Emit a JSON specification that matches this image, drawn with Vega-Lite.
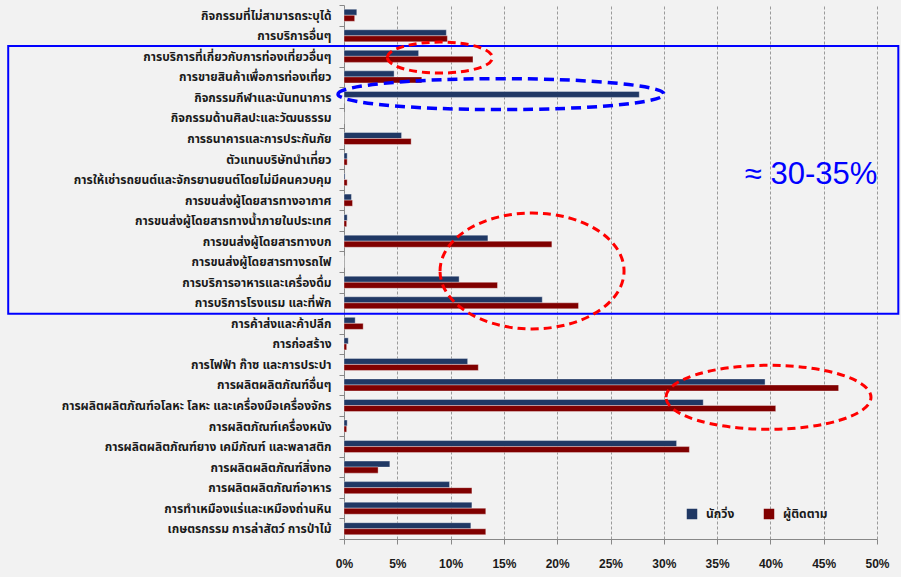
{
  "$schema": "https://vega.github.io/schema/vega-lite/v6.json",
  "width": 533,
  "height": 534,
  "autosize": "none",
  "padding": {"left": 344, "top": 5, "right": 24, "bottom": 38},
  "background": "#f2f2f2",
  "config": {"view": {"stroke": null}, "font": "Liberation Sans"},
  "datasets": {
    "bars": [
      {"category": "กิจกรรมที่ไม่สามารถระบุได้", "series": "นักวิ่ง", "value": 1.2},
      {"category": "กิจกรรมที่ไม่สามารถระบุได้", "series": "ผู้ติดตาม", "value": 1.0},
      {"category": "การบริการอื่นๆ", "series": "นักวิ่ง", "value": 9.6},
      {"category": "การบริการอื่นๆ", "series": "ผู้ติดตาม", "value": 9.7},
      {"category": "การบริการที่เกี่ยวกับการท่องเที่ยวอื่นๆ", "series": "นักวิ่ง", "value": 7.0},
      {"category": "การบริการที่เกี่ยวกับการท่องเที่ยวอื่นๆ", "series": "ผู้ติดตาม", "value": 12.1},
      {"category": "การขายสินค้าเพื่อการท่องเที่ยว", "series": "นักวิ่ง", "value": 4.7},
      {"category": "การขายสินค้าเพื่อการท่องเที่ยว", "series": "ผู้ติดตาม", "value": 7.3},
      {"category": "กิจกรรมกีฬาและนันทนาการ", "series": "นักวิ่ง", "value": 27.7},
      {"category": "กิจกรรมกีฬาและนันทนาการ", "series": "ผู้ติดตาม", "value": 0},
      {"category": "กิจกรรมด้านศิลปะและวัฒนธรรม", "series": "นักวิ่ง", "value": 0},
      {"category": "กิจกรรมด้านศิลปะและวัฒนธรรม", "series": "ผู้ติดตาม", "value": 0},
      {"category": "การธนาคารและการประกันภัย", "series": "นักวิ่ง", "value": 5.4},
      {"category": "การธนาคารและการประกันภัย", "series": "ผู้ติดตาม", "value": 6.3},
      {"category": "ตัวแทนบริษัทนำเที่ยว", "series": "นักวิ่ง", "value": 0.3},
      {"category": "ตัวแทนบริษัทนำเที่ยว", "series": "ผู้ติดตาม", "value": 0.3},
      {"category": "การให้เช่ารถยนต์และจักรยานยนต์โดยไม่มีคนควบคุม", "series": "นักวิ่ง", "value": 0.1},
      {"category": "การให้เช่ารถยนต์และจักรยานยนต์โดยไม่มีคนควบคุม", "series": "ผู้ติดตาม", "value": 0.3},
      {"category": "การขนส่งผู้โดยสารทางอากาศ", "series": "นักวิ่ง", "value": 0.7},
      {"category": "การขนส่งผู้โดยสารทางอากาศ", "series": "ผู้ติดตาม", "value": 0.8},
      {"category": "การขนส่งผู้โดยสารทางน้ำภายในประเทศ", "series": "นักวิ่ง", "value": 0.3},
      {"category": "การขนส่งผู้โดยสารทางน้ำภายในประเทศ", "series": "ผู้ติดตาม", "value": 0.25},
      {"category": "การขนส่งผู้โดยสารทางบก", "series": "นักวิ่ง", "value": 13.5},
      {"category": "การขนส่งผู้โดยสารทางบก", "series": "ผู้ติดตาม", "value": 19.5},
      {"category": "การขนส่งผู้โดยสารทางรถไฟ", "series": "นักวิ่ง", "value": 0},
      {"category": "การขนส่งผู้โดยสารทางรถไฟ", "series": "ผู้ติดตาม", "value": 0},
      {"category": "การบริการอาหารและเครื่องดื่ม", "series": "นักวิ่ง", "value": 10.8},
      {"category": "การบริการอาหารและเครื่องดื่ม", "series": "ผู้ติดตาม", "value": 14.4},
      {"category": "การบริการโรงแรม และที่พัก", "series": "นักวิ่ง", "value": 18.6},
      {"category": "การบริการโรงแรม และที่พัก", "series": "ผู้ติดตาม", "value": 22.0},
      {"category": "การค้าส่งและค้าปลีก", "series": "นักวิ่ง", "value": 1.05},
      {"category": "การค้าส่งและค้าปลีก", "series": "ผู้ติดตาม", "value": 1.8},
      {"category": "การก่อสร้าง", "series": "นักวิ่ง", "value": 0.4},
      {"category": "การก่อสร้าง", "series": "ผู้ติดตาม", "value": 0.25},
      {"category": "การไฟฟ้า ก๊าซ และการประปา", "series": "นักวิ่ง", "value": 11.6},
      {"category": "การไฟฟ้า ก๊าซ และการประปา", "series": "ผู้ติดตาม", "value": 12.6},
      {"category": "การผลิตผลิตภัณฑ์อื่นๆ", "series": "นักวิ่ง", "value": 39.5},
      {"category": "การผลิตผลิตภัณฑ์อื่นๆ", "series": "ผู้ติดตาม", "value": 46.4},
      {"category": "การผลิตผลิตภัณฑ์อโลหะ โลหะ และเครื่องมือเครื่องจักร", "series": "นักวิ่ง", "value": 33.7},
      {"category": "การผลิตผลิตภัณฑ์อโลหะ โลหะ และเครื่องมือเครื่องจักร", "series": "ผู้ติดตาม", "value": 40.5},
      {"category": "การผลิตภัณฑ์เครื่องหนัง", "series": "นักวิ่ง", "value": 0.3},
      {"category": "การผลิตภัณฑ์เครื่องหนัง", "series": "ผู้ติดตาม", "value": 0.25},
      {"category": "การผลิตผลิตภัณฑ์ยาง เคมีภัณฑ์ และพลาสติก", "series": "นักวิ่ง", "value": 31.2},
      {"category": "การผลิตผลิตภัณฑ์ยาง เคมีภัณฑ์ และพลาสติก", "series": "ผู้ติดตาม", "value": 32.4},
      {"category": "การผลิตผลิตภัณฑ์สิ่งทอ", "series": "นักวิ่ง", "value": 4.3},
      {"category": "การผลิตผลิตภัณฑ์สิ่งทอ", "series": "ผู้ติดตาม", "value": 3.2},
      {"category": "การผลิตผลิตภัณฑ์อาหาร", "series": "นักวิ่ง", "value": 9.9},
      {"category": "การผลิตผลิตภัณฑ์อาหาร", "series": "ผู้ติดตาม", "value": 12.0},
      {"category": "การทำเหมืองแร่และเหมืองถ่านหิน", "series": "นักวิ่ง", "value": 12.0},
      {"category": "การทำเหมืองแร่และเหมืองถ่านหิน", "series": "ผู้ติดตาม", "value": 13.3},
      {"category": "เกษตรกรรม การล่าสัตว์ การป่าไม้", "series": "นักวิ่ง", "value": 11.9},
      {"category": "เกษตรกรรม การล่าสัตว์ การป่าไม้", "series": "ผู้ติดตาม", "value": 13.3}
    ]
  },
  "layer": [
    {
      "data": {"name": "bars"},
      "mark": {"type": "bar", "stroke": "#ffffff", "strokeWidth": 0.6, "strokeOpacity": 0.6},
      "encoding": {
        "y": {
          "field": "category", "type": "nominal", "sort": null,
          "scale": {"paddingInner": 0, "paddingOuter": 0},
          "axis": {
            "title": null, "tickBand": "extent", "labelLimit": 400,
            "labelFont": "Noto Sans Thai, Noto Sans, DejaVu Sans, sans-serif",
            "labelFontSize": 12, "labelFontWeight": "bold", "labelColor": "#1a1a1a",
            "tickColor": "#888888", "domainColor": "#888888", "tickSize": 5, "labelPadding": 8, "grid": false
          }
        },
        "yOffset": {
          "field": "series", "type": "nominal", "sort": ["นักวิ่ง", "ผู้ติดตาม"],
          "scale": {"paddingOuter": 0.7, "paddingInner": 0}
        },
        "x": {
          "field": "value", "type": "quantitative",
          "scale": {"domain": [0, 50], "nice": false},
          "axis": {
            "title": null, "values": [0, 5, 10, 15, 20, 25, 30, 35, 40, 45, 50],
            "labelExpr": "datum.value + '%'", "labelFlush": false, "grid": true, "gridDash": [3, 2],
            "gridColor": "#9a9a9a", "gridWidth": 1, "domainColor": "#888888",
            "tickColor": "#888888", "tickSize": 5, "labelPadding": 14,
            "labelFontSize": 12, "labelFontWeight": "bold", "labelColor": "#1a1a1a",
            "labelFont": "Liberation Sans"
          }
        },
        "color": {
          "field": "series", "type": "nominal", "sort": ["นักวิ่ง", "ผู้ติดตาม"],
          "scale": {"range": ["#203864", "#800000"]},
          "legend": {
            "title": null, "orient": "none", "legendX": 342, "legendY": 503,
            "direction": "horizontal", "symbolType": "square", "symbolSize": 110,
            "symbolStrokeWidth": 0, "labelFontSize": 12, "labelFontWeight": "bold",
            "labelFont": "Noto Sans Thai, Noto Sans, DejaVu Sans, sans-serif",
            "labelColor": "#1a1a1a", "columnPadding": 28, "labelOffset": 8
          }
        }
      }
    },
    {
      "data": {"values": [{"x0": -31.5, "x1": 52.0, "y0": 2.0, "y1": 15.03}]},
      "mark": {"type": "rect", "fill": "#ffffff", "fillOpacity": 0, "stroke": "#0000ff", "strokeWidth": 2},
      "encoding": {
        "x": {"field": "x0", "type": "quantitative", "scale": {"domain": [0, 50], "nice": false}},
        "x2": {"field": "x1"},
        "y": {"field": "y0", "type": "quantitative", "scale": {"domain": [0, 26], "reverse": true, "nice": false, "zero": false}, "axis": null},
        "y2": {"field": "y1"}
      }
    },
    {
      "data": {"values": [{"x": 9.0, "y": 2.56}]},
      "mark": {"type": "point", "shape": "M-1,0C-1,-0.163 -0.552,-0.295 0,-0.295C0.552,-0.295 1,-0.163 1,0C1,0.163 0.552,0.295 0,0.295C-0.552,0.295 -1,0.163 -1,0Z", "size": 11025, "filled": false, "opacity": 1, "stroke": "#ff0000", "strokeWidth": 3, "strokeDash": [8, 5]},
      "encoding": {
        "x": {"field": "x", "type": "quantitative", "scale": {"domain": [0, 50], "nice": false}},
        "y": {"field": "y", "type": "quantitative", "scale": {"domain": [0, 26], "reverse": true, "nice": false, "zero": false}, "axis": null}
      }
    },
    {
      "data": {"values": [{"x": 14.73, "y": 4.34}]},
      "mark": {"type": "point", "shape": "M-1,0C-1,-0.0525 -0.552,-0.095 0,-0.095C0.552,-0.095 1,-0.0525 1,0C1,0.0525 0.552,0.095 0,0.095C-0.552,0.095 -1,0.0525 -1,0Z", "size": 106276, "filled": false, "opacity": 1, "stroke": "#0000ff", "strokeWidth": 3.5, "strokeDash": [10, 6]},
      "encoding": {
        "x": {"field": "x", "type": "quantitative", "scale": {"domain": [0, 50], "nice": false}},
        "y": {"field": "y", "type": "quantitative", "scale": {"domain": [0, 26], "reverse": true, "nice": false, "zero": false}, "axis": null}
      }
    },
    {
      "data": {"values": [{"x": 17.64, "y": 12.95}]},
      "mark": {"type": "point", "shape": "M-1,0C-1,-0.348 -0.552,-0.63 0,-0.63C0.552,-0.63 1,-0.348 1,0C1,0.348 0.552,0.63 0,0.63C-0.552,0.63 -1,0.348 -1,0Z", "size": 33856, "filled": false, "opacity": 1, "stroke": "#ff0000", "strokeWidth": 3, "strokeDash": [8, 5]},
      "encoding": {
        "x": {"field": "x", "type": "quantitative", "scale": {"domain": [0, 50], "nice": false}},
        "y": {"field": "y", "type": "quantitative", "scale": {"domain": [0, 26], "reverse": true, "nice": false, "zero": false}, "axis": null}
      }
    },
    {
      "data": {"values": [{"x": 39.82, "y": 19.1}]},
      "mark": {"type": "point", "shape": "M-1,0C-1,-0.172 -0.552,-0.312 0,-0.312C0.552,-0.312 1,-0.172 1,0C1,0.172 0.552,0.312 0,0.312C-0.552,0.312 -1,0.172 -1,0Z", "size": 42025, "filled": false, "opacity": 1, "stroke": "#ff0000", "strokeWidth": 3, "strokeDash": [8, 5]},
      "encoding": {
        "x": {"field": "x", "type": "quantitative", "scale": {"domain": [0, 50], "nice": false}},
        "y": {"field": "y", "type": "quantitative", "scale": {"domain": [0, 26], "reverse": true, "nice": false, "zero": false}, "axis": null}
      }
    },
    {
      "data": {"values": [{"label": "≈ 30-35%", "x": 37.6, "y": 8.27}]},
      "mark": {"type": "text", "align": "left", "baseline": "middle", "fontSize": 31, "font": "Liberation Sans", "color": "#0000ff"},
      "encoding": {
        "text": {"field": "label"},
        "x": {"field": "x", "type": "quantitative", "scale": {"domain": [0, 50], "nice": false}},
        "y": {"field": "y", "type": "quantitative", "scale": {"domain": [0, 26], "reverse": true, "nice": false, "zero": false}, "axis": null}
      }
    }
  ],
  "resolve": {"scale": {"y": "independent"}}
}
